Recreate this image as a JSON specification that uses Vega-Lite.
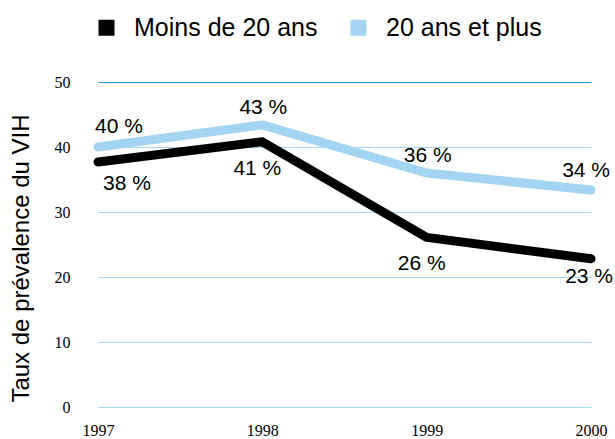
{
  "$schema": "https://vega.github.io/schema/vega-lite/v6.json",
  "width": 493,
  "height": 325,
  "autosize": {"type": "none"},
  "padding": {"left": 98, "top": 82, "right": 24, "bottom": 32},
  "background": "#ffffff",
  "config": {"view": {"stroke": null}, "font": "Liberation Sans"},
  "data": {
    "values": [
      {"year": 1997, "group": "Moins de 20 ans", "value": 37.7, "label": "38 %"},
      {"year": 1998, "group": "Moins de 20 ans", "value": 40.8, "label": "41 %"},
      {"year": 1999, "group": "Moins de 20 ans", "value": 26.1, "label": "26 %"},
      {"year": 2000, "group": "Moins de 20 ans", "value": 22.8, "label": "23 %"},
      {"year": 1997, "group": "20 ans et plus", "value": 40.0, "label": "40 %"},
      {"year": 1998, "group": "20 ans et plus", "value": 43.4, "label": "43 %"},
      {"year": 1999, "group": "20 ans et plus", "value": 36.0, "label": "36 %"},
      {"year": 2000, "group": "20 ans et plus", "value": 33.4, "label": "34 %"}
    ]
  },
  "encoding": {
    "x": {
      "field": "year",
      "type": "quantitative",
      "scale": {"domain": [1997, 2000], "nice": false, "zero": false},
      "axis": {
        "values": [1997, 1998, 1999, 2000],
        "format": "d",
        "title": null,
        "domain": false,
        "ticks": false,
        "grid": false,
        "labelFont": "Liberation Sans Narrow",
        "labelFontSize": 16,
        "labelColor": "#000000",
        "labelPadding": 15,
        "labelFlush": false
      }
    },
    "y": {
      "field": "value",
      "type": "quantitative",
      "scale": {"domain": [0, 50], "nice": false},
      "axis": {
        "values": [0, 10, 20, 30, 40, 50],
        "title": "Taux de prévalence du VIH",
        "titleFont": "Liberation Sans",
        "titleFontSize": 24,
        "titleFontWeight": "normal",
        "titleColor": "#000000",
        "titleX": -77,
        "titleY": 176,
        "titleAngle": -90,
        "titleAlign": "center",
        "titleBaseline": "middle",
        "domain": false,
        "ticks": false,
        "grid": true,
        "gridColor": {"condition": {"test": "datum.value === 50", "value": "#1fa2dc"}, "value": "#a6d8f3"},
        "gridWidth": 1.2,
        "labelFont": "Liberation Sans Narrow",
        "labelFontSize": 16,
        "labelColor": "#000000",
        "labelPadding": 28
      }
    }
  },
  "layer": [
    {
      "mark": {"type": "line", "strokeWidth": 9, "strokeCap": "round", "strokeJoin": "round"},
      "encoding": {
        "color": {
          "field": "group",
          "type": "nominal",
          "scale": {"domain": ["Moins de 20 ans", "20 ans et plus"], "range": ["#000000", "#a3d5f3"]},
          "legend": {
            "orient": "none",
            "legendX": -4,
            "legendY": -67,
            "direction": "horizontal",
            "title": null,
            "symbolType": "square",
            "symbolSize": 256,
            "symbolStrokeWidth": 0,
            "labelFont": "Liberation Sans",
            "labelFontSize": 25,
            "labelColor": "#000000",
            "labelOffset": 15,
            "columnPadding": 28,
            "labelLimit": 400,
            "encode": {"symbols": {"update": {"fill": {"scale": "color", "field": "value"}, "opacity": {"value": 1}}}}
          }
        }
      }
    },
    {
      "transform": [{"filter": "datum.group === '20 ans et plus' && datum.year === 1997"}],
      "mark": {"type": "text", "align": "left", "baseline": "alphabetic", "dx": -3, "dy": -14, "fontSize": 21, "color": "#000000"},
      "encoding": {"text": {"field": "label"}}
    },
    {
      "transform": [{"filter": "datum.group === '20 ans et plus' && (datum.year === 1998 || datum.year === 1999)"}],
      "mark": {"type": "text", "align": "center", "baseline": "alphabetic", "dx": 1, "dy": -11, "fontSize": 21, "color": "#000000"},
      "encoding": {"text": {"field": "label"}}
    },
    {
      "transform": [{"filter": "datum.group === '20 ans et plus' && datum.year === 2000"}],
      "mark": {"type": "text", "align": "right", "baseline": "alphabetic", "dx": 19, "dy": -13, "fontSize": 21, "color": "#000000"},
      "encoding": {"text": {"field": "label"}}
    },
    {
      "transform": [{"filter": "datum.group === 'Moins de 20 ans' && datum.year === 1997"}],
      "mark": {"type": "text", "align": "left", "baseline": "alphabetic", "dx": 5, "dy": 28, "fontSize": 21, "color": "#000000"},
      "encoding": {"text": {"field": "label"}}
    },
    {
      "transform": [{"filter": "datum.group === 'Moins de 20 ans' && (datum.year === 1998 || datum.year === 1999)"}],
      "mark": {"type": "text", "align": "center", "baseline": "alphabetic", "dx": -5, "dy": 33, "fontSize": 21, "color": "#000000"},
      "encoding": {"text": {"field": "label"}}
    },
    {
      "transform": [{"filter": "datum.group === 'Moins de 20 ans' && datum.year === 2000"}],
      "mark": {"type": "text", "align": "right", "baseline": "alphabetic", "dx": 22, "dy": 24, "fontSize": 21, "color": "#000000"},
      "encoding": {"text": {"field": "label"}}
    }
  ]
}
